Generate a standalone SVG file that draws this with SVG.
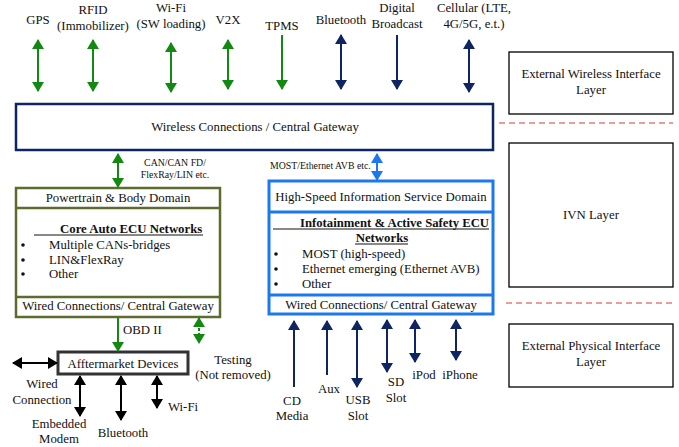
<svg xmlns="http://www.w3.org/2000/svg" width="679" height="447" viewBox="0 0 679 447">
  <style>
    text { font-family: "Liberation Serif", "DejaVu Serif", serif; font-size: 12.8px; fill: #111; }
    .c { text-anchor: middle; }
    .s9 { font-size: 9.8px; }
    .b { font-weight: bold; }
    .g { stroke: #128a12; stroke-width: 2; fill: none; }
    .n { stroke: #0f2463; stroke-width: 2; fill: none; }
    .bl { stroke: #1c78f2; stroke-width: 2; fill: none; }
    .k { stroke: #000; stroke-width: 2; fill: none; }
    .layer { fill: #fff; stroke: #000; stroke-width: 1.3; }
    .sep { stroke: #d9383a; stroke-width: 1; stroke-dasharray: 6 4; }
  </style>
  <defs>
    <marker id="hg" viewBox="0 0 10 12" refX="9" refY="6" markerWidth="10" markerHeight="12" markerUnits="userSpaceOnUse" orient="auto-start-reverse"><path d="M0,0 L10,6 L0,12 z" fill="#128a12"/></marker>
    <marker id="hn" viewBox="0 0 10 12" refX="9" refY="6" markerWidth="10" markerHeight="12" markerUnits="userSpaceOnUse" orient="auto-start-reverse"><path d="M0,0 L10,6 L0,12 z" fill="#0f2463"/></marker>
    <marker id="hb" viewBox="0 0 10 12" refX="9" refY="6" markerWidth="10" markerHeight="12" markerUnits="userSpaceOnUse" orient="auto-start-reverse"><path d="M0,0 L10,6 L0,12 z" fill="#1c78f2"/></marker>
    <marker id="hk" viewBox="0 0 10 12" refX="9" refY="6" markerWidth="10" markerHeight="12" markerUnits="userSpaceOnUse" orient="auto-start-reverse"><path d="M0,0 L10,6 L0,12 z" fill="#000"/></marker>
  </defs>

  <!-- top wireless interface labels -->
  <g id="labels-wireless">
    <text class="c" x="38" y="24">GPS</text>
    <text class="c" x="93" y="14">RFID</text>
    <text class="c" x="93" y="30">(Immobilizer)</text>
    <text class="c" x="171" y="12">Wi-Fi</text>
    <text class="c" x="171" y="28">(SW loading)</text>
    <text class="c" x="228" y="24">V2X</text>
    <text class="c" x="282" y="30">TPMS</text>
    <text class="c" x="341" y="24">Bluetooth</text>
    <text class="c" x="397" y="12">Digital</text>
    <text class="c" x="397" y="28">Broadcast</text>
    <text class="c" x="474" y="12">Cellular (LTE,</text>
    <text class="c" x="474" y="28">4G/5G, e.t.)</text>
  </g>

  <!-- layer boxes on the right -->
  <g id="layer-wireless">
    <rect class="layer" x="509" y="52" width="164" height="62"/>
    <text class="c" x="591" y="78">External Wireless Interface</text>
    <text class="c" x="591" y="94">Layer</text>
  </g>
  <g id="layer-ivn">
    <rect class="layer" x="509" y="143" width="164" height="144"/>
    <text class="c" x="591" y="219">IVN Layer</text>
  </g>
  <g id="layer-physical">
    <rect class="layer" x="509" y="324" width="164" height="63"/>
    <text class="c" x="591" y="350">External Physical Interface</text>
    <text class="c" x="591" y="366">Layer</text>
  </g>
  <line class="sep" x1="499" y1="123" x2="673" y2="123"/>
  <line class="sep" x1="506" y1="303" x2="676" y2="303"/>

  <!-- central gateway -->
  <g id="gateway">
    <rect x="16" y="104" width="477" height="46" fill="#fff" stroke="#0f2463" stroke-width="2.5"/>
    <text class="c" x="255" y="131">Wireless Connections / Central Gateway</text>
  </g>

  <!-- powertrain & body domain -->
  <g id="powertrain">
    <rect x="16" y="188" width="204" height="129" fill="#fff" stroke="#5c6b2e" stroke-width="2.5"/>
    <line x1="16" y1="208" x2="220" y2="208" stroke="#5c6b2e" stroke-width="2.5"/>
    <line x1="16" y1="297" x2="220" y2="297" stroke="#5c6b2e" stroke-width="2.5"/>
    <text class="c" x="118" y="202">Powertrain &amp; Body Domain</text>
    <text class="b" x="60" y="233">Core Auto ECU Networks</text>
    <line x1="34" y1="235" x2="203" y2="235" stroke="#111" stroke-width="1"/>
    <circle cx="23" cy="245" r="1.8" fill="#111"/>
    <circle cx="23" cy="260" r="1.8" fill="#111"/>
    <circle cx="23" cy="274" r="1.8" fill="#111"/>
    <text x="49" y="249">Multiple CANs-bridges</text>
    <text x="49" y="264">LIN&amp;FlexRay</text>
    <text x="49" y="278">Other</text>
    <text class="c" x="118" y="310">Wired Connections/ Central Gateway</text>
  </g>

  <!-- high-speed information service domain -->
  <g id="infotainment">
    <rect x="269" y="181" width="224" height="133" fill="#fff" stroke="#1c78f2" stroke-width="3"/>
    <line x1="269" y1="212" x2="493" y2="212" stroke="#1c78f2" stroke-width="3"/>
    <line x1="269" y1="295" x2="493" y2="295" stroke="#1c78f2" stroke-width="3"/>
    <text class="c" x="381" y="201">High-Speed Information Service Domain</text>
    <text class="b" x="300" y="227" textLength="189" lengthAdjust="spacingAndGlyphs">Infotainment &amp; Active Safety ECU</text>
    <line x1="273" y1="229" x2="489" y2="229" stroke="#111" stroke-width="1"/>
    <text class="b c" x="382" y="242">Networks</text>
    <line x1="355" y1="244" x2="408" y2="244" stroke="#111" stroke-width="1"/>
    <circle cx="276" cy="254" r="1.8" fill="#111"/>
    <circle cx="276" cy="269" r="1.8" fill="#111"/>
    <circle cx="276" cy="284" r="1.8" fill="#111"/>
    <text x="302" y="258">MOST (high-speed)</text>
    <text x="302" y="273">Ethernet emerging (Ethernet AVB)</text>
    <text x="302" y="288">Other</text>
    <text class="c" x="381" y="309">Wired Connections/ Central Gateway</text>
  </g>

  <!-- aftermarket devices -->
  <g id="aftermarket">
    <rect x="58" y="352" width="130" height="22" fill="#fff" stroke="#333" stroke-width="3"/>
    <text class="c" x="123" y="368">Afftermarket Devices</text>
  </g>

  <!-- connector labels -->
  <g id="connector-labels">
    <text class="c s9" x="175" y="166">CAN/CAN FD/</text>
    <text class="c s9" x="175" y="178">FlexRay/LIN etc.</text>
    <text class="s9" x="270" y="169">MOST/Ethernet AVB etc.</text>
    <text x="123" y="334">OBD II</text>
    <text class="c" x="233" y="364">Testing</text>
    <text class="c" x="233" y="379">(Not removed)</text>
    <text class="c" x="42" y="388">Wired</text>
    <text class="c" x="42" y="404">Connection</text>
    <text class="c" x="59" y="428">Embedded</text>
    <text class="c" x="59" y="443">Modem</text>
    <text class="c" x="123" y="437">Bluetooth</text>
    <text x="168" y="411">Wi-Fi</text>
    <text class="c" x="292" y="405">CD</text>
    <text class="c" x="292" y="420">Media</text>
    <text class="c" x="329" y="393">Aux</text>
    <text class="c" x="358" y="404">USB</text>
    <text class="c" x="358" y="420">Slot</text>
    <text class="c" x="396" y="386">SD</text>
    <text class="c" x="396" y="402">Slot</text>
    <text class="c" x="424" y="379">iPod</text>
    <text class="c" x="460" y="379">iPhone</text>
  </g>

  <!-- connectors -->
  <g id="connectors">
    <path class="g" d="M38 40 V91" marker-start="url(#hg)" marker-end="url(#hg)"/>
    <path class="g" d="M93 40 V91" marker-start="url(#hg)" marker-end="url(#hg)"/>
    <path class="g" d="M171 43 V92" marker-start="url(#hg)" marker-end="url(#hg)"/>
    <path class="g" d="M228 40 V89" marker-start="url(#hg)" marker-end="url(#hg)"/>
    <path class="g" d="M282 35 V89" marker-end="url(#hg)"/>
    <path class="n" d="M341 35 V89" marker-start="url(#hn)" marker-end="url(#hn)"/>
    <path class="n" d="M397 35 V89" marker-end="url(#hn)"/>
    <path class="n" d="M469 40 V92" marker-start="url(#hn)" marker-end="url(#hn)"/>

    <path class="g" d="M118 154 V187" marker-start="url(#hg)" marker-end="url(#hg)"/>
    <path class="bl" d="M377 154 V180" marker-start="url(#hb)" marker-end="url(#hb)"/>

    <path class="g" d="M118 318 V351" marker-end="url(#hg)"/>
    <path class="g" d="M199 318 V343" stroke-dasharray="3 2" marker-start="url(#hg)" marker-end="url(#hg)"/>

    <path class="k" d="M13 363 H57" marker-start="url(#hk)" marker-end="url(#hk)"/>
    <path class="k" d="M80 376 V416" marker-start="url(#hk)" marker-end="url(#hk)"/>
    <path class="k" d="M121 376 V420" marker-start="url(#hk)" marker-end="url(#hk)"/>
    <path class="k" d="M157 376 V408" marker-start="url(#hk)" marker-end="url(#hk)"/>

    <path class="n" d="M294 387 V321" marker-end="url(#hn)"/>
    <path class="n" d="M327 375 V321" marker-end="url(#hn)"/>
    <path class="n" d="M357 321 V387" marker-start="url(#hn)" marker-end="url(#hn)"/>
    <path class="n" d="M387 320 V372" marker-start="url(#hn)" marker-end="url(#hn)"/>
    <path class="n" d="M415 320 V362" marker-start="url(#hn)" marker-end="url(#hn)"/>
    <path class="n" d="M456 320 V360" marker-start="url(#hn)" marker-end="url(#hn)"/>
  </g>
</svg>
